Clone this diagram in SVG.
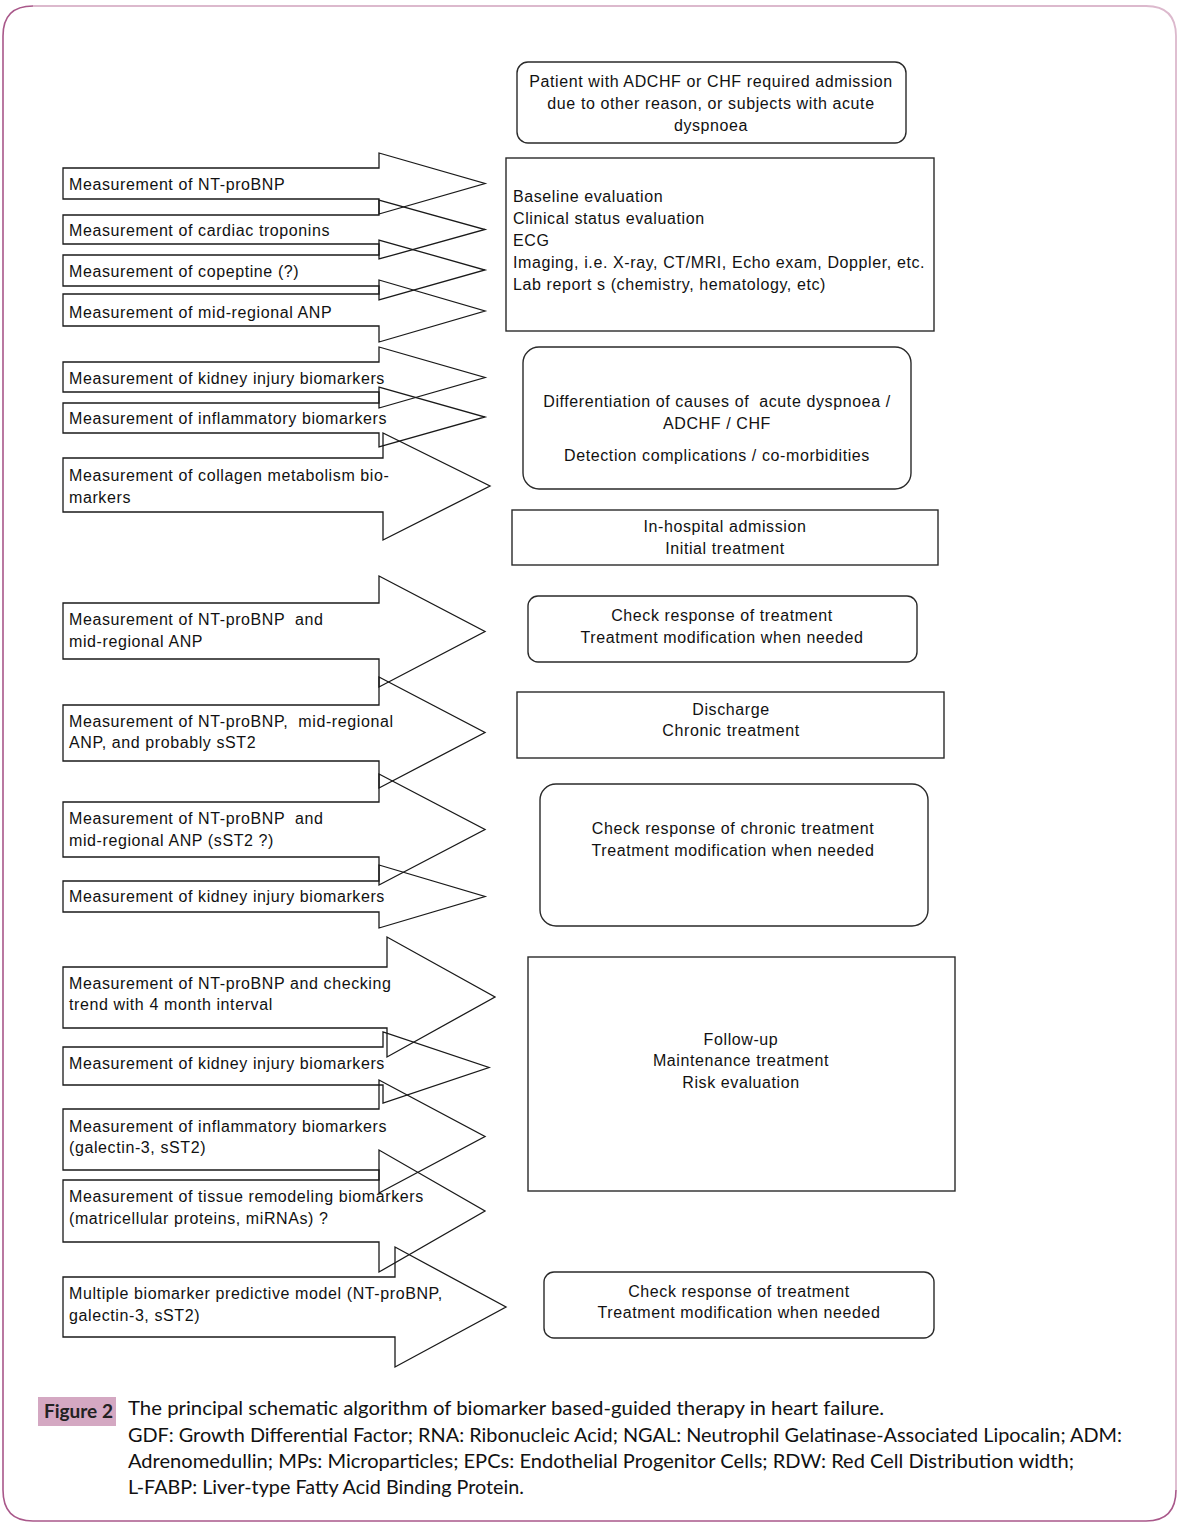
<svg xmlns="http://www.w3.org/2000/svg" width="1181" height="1533" viewBox="0 0 1181 1533">
<style>
.bg{fill:#ffffff}
.arr{fill:none;stroke:#1a1a1a;stroke-width:1.3;stroke-linejoin:miter}
.box{fill:none;stroke:#2a2a2a;stroke-width:1.4}
.t{font-family:"Liberation Sans",Arial,sans-serif;font-size:16px;fill:#111;letter-spacing:0.6px}
.c{text-anchor:middle}
.cap{font-family:Lato,"Open Sans",sans-serif;font-size:20px;fill:#111}
.fig{font-family:Lato,"Open Sans",sans-serif;font-size:19px;font-weight:bold;fill:#222}
</style>
<rect class="bg" x="0" y="0" width="1181" height="1533"/>
<g id="frame">
<path d="M3,1490 L3,36 Q3,6 33,6" fill="none" stroke="#a9588a" stroke-width="1.6"/>
<path d="M33,6 L1146,6 Q1176,6 1176,36 L1176,1490" fill="none" stroke="#dcb9cd" stroke-width="1.8"/>
<path d="M1176,1490 Q1176,1521 1146,1521 L33,1521 Q3,1521 3,1490" fill="none" stroke="#a9588a" stroke-width="1.6"/>
</g>
<g id="connectors">
<path id="a1" class="arr" d="M63,168 L379,168 L379,153 L485,183.5 L379,214 L379,199 L63,199 Z"/>
<path id="a2" class="arr" d="M63,215 L379,215 L379,200 L485,229.5 L379,259 L379,244 L63,244 Z"/>
<path id="a3" class="arr" d="M63,255 L379,255 L379,240 L485,270 L379,300 L379,286 L63,286 Z"/>
<path id="a4" class="arr" d="M63,294 L379,294 L379,280 L485,311 L379,342 L379,326 L63,326 Z"/>
<path id="a5" class="arr" d="M63,362 L379,362 L379,347 L485,377.5 L379,408 L379,392 L63,392 Z"/>
<path id="a6" class="arr" d="M63,403 L379,403 L379,387 L485,417 L379,447 L379,433 L63,433 Z"/>
<path id="a7" class="arr" d="M63,458 L383,458 L383,433 L490,486 L383,540 L383,512 L63,512 Z"/>
<path id="a8" class="arr" d="M63,603 L379,603 L379,576 L485,631.5 L379,687 L379,659 L63,659 Z"/>
<path id="a9" class="arr" d="M63,705 L379,705 L379,677 L485,732.5 L379,788 L379,761 L63,761 Z"/>
<path id="a10" class="arr" d="M63,802 L379,802 L379,774 L485,829.5 L379,885 L379,857 L63,857 Z"/>
<path id="a11" class="arr" d="M63,881 L379,881 L379,865 L485,896.5 L379,928 L379,912 L63,912 Z"/>
<path id="a12" class="arr" d="M63,967 L387,967 L387,937 L495,997 L387,1057 L387,1028 L63,1028 Z"/>
<path id="a13" class="arr" d="M63,1047 L383,1047 L383,1032 L489,1067.5 L383,1103 L383,1085 L63,1085 Z"/>
<path id="a14" class="arr" d="M63,1109 L379,1109 L379,1080 L485,1136.5 L379,1193 L379,1170 L63,1170 Z"/>
<path id="a15" class="arr" d="M63,1180 L379,1180 L379,1150 L485,1211 L379,1272 L379,1242 L63,1242 Z"/>
<path id="a16" class="arr" d="M63,1277 L395,1277 L395,1247 L506,1307 L395,1367 L395,1337 L63,1337 Z"/>
</g>
<g id="arrow-labels">
<text class="t" x="69" y="190">Measurement of NT-proBNP</text>
<text class="t" x="69" y="236">Measurement of cardiac troponins</text>
<text class="t" x="69" y="277">Measurement of copeptine (?)</text>
<text class="t" x="69" y="318">Measurement of mid-regional ANP</text>
<text class="t" x="69" y="384">Measurement of kidney injury biomarkers</text>
<text class="t" x="69" y="424">Measurement of inflammatory biomarkers</text>
<text class="t" x="69" y="481">Measurement of collagen metabolism bio-</text>
<text class="t" x="69" y="503">markers</text>
<text class="t" x="69" y="625" xml:space="preserve">Measurement of NT-proBNP  and</text>
<text class="t" x="69" y="647">mid-regional ANP</text>
<text class="t" x="69" y="727" xml:space="preserve">Measurement of NT-proBNP,  mid-regional</text>
<text class="t" x="69" y="748">ANP, and probably sST2</text>
<text class="t" x="69" y="824" xml:space="preserve">Measurement of NT-proBNP  and</text>
<text class="t" x="69" y="846">mid-regional ANP (sST2 ?)</text>
<text class="t" x="69" y="902">Measurement of kidney injury biomarkers</text>
<text class="t" x="69" y="989">Measurement of NT-proBNP and checking</text>
<text class="t" x="69" y="1010">trend with 4 month interval</text>
<text class="t" x="69" y="1069">Measurement of kidney injury biomarkers</text>
<text class="t" x="69" y="1132">Measurement of inflammatory biomarkers</text>
<text class="t" x="69" y="1153">(galectin-3, sST2)</text>
<text class="t" x="69" y="1202">Measurement of tissue remodeling biomarkers</text>
<text class="t" x="69" y="1224">(matricellular proteins, miRNAs) ?</text>
<text class="t" x="69" y="1299">Multiple biomarker predictive model (NT-proBNP,</text>
<text class="t" x="69" y="1321">galectin-3, sST2)</text>
</g>
<g id="n1">
<rect class="box" x="517" y="62" width="389" height="81" rx="11"/>
<text class="t c" x="711" y="87">Patient with ADCHF or CHF required admission</text>
<text class="t c" x="711" y="109">due to other reason, or subjects with acute</text>
<text class="t c" x="711" y="131">dyspnoea</text>
</g>
<g id="n2">
<rect class="box" x="506" y="158" width="428" height="173"/>
<text class="t" x="513" y="202">Baseline evaluation</text>
<text class="t" x="513" y="224">Clinical status evaluation</text>
<text class="t" x="513" y="246">ECG</text>
<text class="t" x="513" y="268">Imaging, i.e. X-ray, CT/MRI, Echo exam, Doppler, etc.</text>
<text class="t" x="513" y="290">Lab report s (chemistry, hematology, etc)</text>
</g>
<g id="n3">
<rect class="box" x="523" y="347" width="388" height="142" rx="16"/>
<text class="t c" x="717" y="407" xml:space="preserve">Differentiation of causes of  acute dyspnoea /</text>
<text class="t c" x="717" y="429">ADCHF / CHF</text>
<text class="t c" x="717" y="461">Detection complications / co-morbidities</text>
</g>
<g id="n4">
<rect class="box" x="512" y="510" width="426" height="55"/>
<text class="t c" x="725" y="532">In-hospital admission</text>
<text class="t c" x="725" y="554">Initial treatment</text>
</g>
<g id="n5">
<rect class="box" x="528" y="596" width="389" height="66" rx="10"/>
<text class="t c" x="722" y="621">Check response of treatment</text>
<text class="t c" x="722" y="643">Treatment modification when needed</text>
</g>
<g id="n6">
<rect class="box" x="517" y="692" width="427" height="66"/>
<text class="t c" x="731" y="715">Discharge</text>
<text class="t c" x="731" y="736">Chronic treatment</text>
</g>
<g id="n7">
<rect class="box" x="540" y="784" width="388" height="142" rx="16"/>
<text class="t c" x="733" y="834">Check response of chronic treatment</text>
<text class="t c" x="733" y="856">Treatment modification when needed</text>
</g>
<g id="n8">
<rect class="box" x="528" y="957" width="427" height="234"/>
<text class="t c" x="741" y="1045">Follow-up</text>
<text class="t c" x="741" y="1066">Maintenance treatment</text>
<text class="t c" x="741" y="1088">Risk evaluation</text>
</g>
<g id="n9">
<rect class="box" x="544" y="1272" width="390" height="66" rx="10"/>
<text class="t c" x="739" y="1297">Check response of treatment</text>
<text class="t c" x="739" y="1318">Treatment modification when needed</text>
</g>
<g id="caption">
<rect x="38" y="1397" width="78" height="29" fill="#d4a8c2"/>
<text class="fig" x="44" y="1418">Figure 2</text>
<text class="cap" x="128" y="1415" textLength="756" lengthAdjust="spacingAndGlyphs">The principal schematic algorithm of biomarker based-guided therapy in heart failure.</text>
<text class="cap" x="128" y="1442" textLength="994" lengthAdjust="spacingAndGlyphs">GDF: Growth Differential Factor; RNA: Ribonucleic Acid; NGAL: Neutrophil Gelatinase-Associated Lipocalin; ADM:</text>
<text class="cap" x="128" y="1468" textLength="946" lengthAdjust="spacingAndGlyphs">Adrenomedullin; MPs: Microparticles; EPCs: Endothelial Progenitor Cells; RDW: Red Cell Distribution width;</text>
<text class="cap" x="128" y="1494" textLength="396" lengthAdjust="spacingAndGlyphs">L-FABP: Liver-type Fatty Acid Binding Protein.</text>
</g>
</svg>
